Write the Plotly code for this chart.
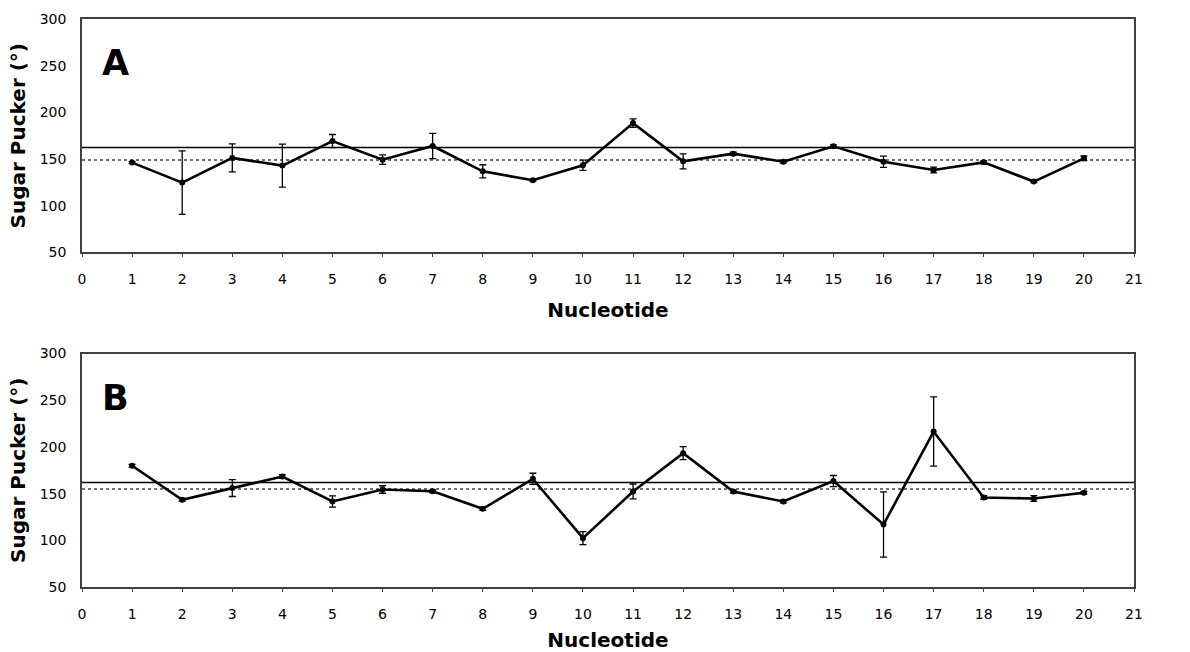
import plotly.graph_objects as go
from plotly.subplots import make_subplots

nucleotide = list(range(1, 21))

pucker_a = [146.2, 124.8, 151.2, 143.0, 169.3, 149.4, 164.0, 136.9, 127.3, 143.3,
            188.5, 147.6, 155.8, 147.2, 163.6, 147.2, 138.3, 146.5, 125.9, 150.8]
err_a = [1.0, 34.0, 15.0, 23.0, 7.0, 5.0, 13.5, 7.0, 1.0, 5.5,
         4.5, 8.0, 1.5, 1.5, 1.5, 6.0, 3.0, 1.5, 1.0, 2.5]

pucker_b = [179.8, 143.4, 155.9, 168.3, 141.6, 154.4, 152.6, 133.7, 165.8, 102.3,
            152.3, 193.3, 152.3, 141.6, 163.4, 116.9, 216.5, 145.8, 144.8, 150.9]
err_b = [1.5, 1.5, 9.0, 2.0, 6.0, 4.0, 1.5, 1.5, 6.0, 7.0,
         8.0, 7.0, 1.5, 1.5, 6.0, 35.0, 37.0, 2.0, 3.0, 1.5]

ref_solid = [162.5, 162.0]
ref_dotted = [149.0, 155.0]
panel_labels = ["A", "B"]

x_ticks = list(range(0, 22))
y_ticks = [50, 100, 150, 200, 250, 300]

FONT = "DejaVu Sans, Verdana, sans-serif"
FRAME = "#404040"

fig = make_subplots(rows=2, cols=1, vertical_spacing=0.178)

for i, (vals, errs) in enumerate([(pucker_a, err_a), (pucker_b, err_b)]):
    row = i + 1
    fig.add_trace(go.Scatter(
        x=nucleotide, y=vals,
        mode="lines+markers",
        line=dict(color="black", width=2.6),
        marker=dict(color="black", size=6, symbol="circle"),
        error_y=dict(type="data", array=errs, visible=True,
                     color="black", thickness=1.3, width=3.5),
        showlegend=False,
    ), row=row, col=1)

    xref = "x" if row == 1 else "x2"
    yref = "y" if row == 1 else "y2"
    fig.add_shape(type="line", xref=f"{xref} domain", yref=yref,
                  x0=0, x1=1, y0=ref_solid[i], y1=ref_solid[i],
                  line=dict(color="black", width=1.5), layer="below")
    fig.add_shape(type="line", xref=f"{xref} domain", yref=yref,
                  x0=0, x1=1, y0=ref_dotted[i], y1=ref_dotted[i],
                  line=dict(color="#444444", width=1.5, dash="dot"), layer="below")
    fig.add_annotation(text=f"<b>{panel_labels[i]}</b>", xref=f"{xref} domain",
                       yref=f"{yref} domain", x=0.032, y=0.81,
                       xanchor="center", yanchor="middle", showarrow=False,
                       font=dict(family=FONT, size=35, color="black"))

    fig.update_xaxes(range=[0, 21], tickvals=x_ticks, ticktext=[str(t) for t in x_ticks],
                     showgrid=False, zeroline=False, showline=True, mirror=True,
                     linecolor=FRAME, linewidth=1.5, automargin=False,
                     ticks="outside", ticklen=3, tickcolor=FRAME,
                     ticklabelstandoff=10,
                     tickfont=dict(family=FONT, size=14, color="black"),
                     title=dict(text="<b>Nucleotide</b>", standoff=17,
                                font=dict(family=FONT, size=20, color="black")),
                     row=row, col=1)
    fig.update_yaxes(range=[50, 300], tickvals=y_ticks,
                     showgrid=False, zeroline=False, showline=True, mirror=True,
                     linecolor=FRAME, linewidth=1.5, automargin=False,
                     ticks="", ticklabelstandoff=11,
                     tickfont=dict(family=FONT, size=14, color="black"),
                     title=dict(text="<b>Sugar Pucker (°)</b>", standoff=9,
                                font=dict(family=FONT, size=20, color="black")),
                     row=row, col=1)

fig.update_layout(
    width=1190, height=652,
    margin=dict(l=82, r=56, t=19, b=65, autoexpand=False),
    plot_bgcolor="white", paper_bgcolor="white",
    font=dict(family=FONT, color="black"),
)

fig.write_html("out.html")
